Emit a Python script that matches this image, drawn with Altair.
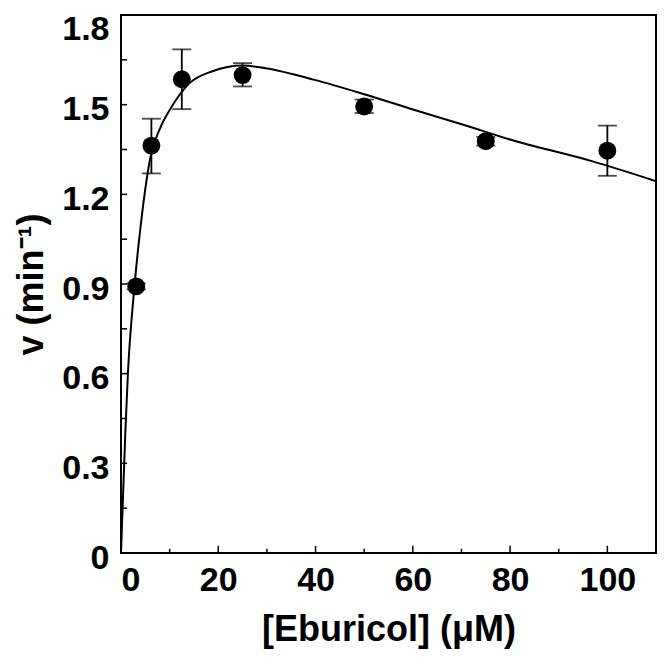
import altair as alt
import pandas as pd

# measured points
conc = [3.125, 6.25, 12.5, 25, 50, 75, 100]
rate = [0.892, 1.363, 1.585, 1.599, 1.494, 1.378, 1.346]
err_lo = [0.882, 1.270, 1.485, 1.561, 1.472, 1.363, 1.262]
err_hi = [0.902, 1.453, 1.685, 1.639, 1.517, 1.392, 1.430]

# fitted curve
fit_x = [0, 0.88, 1.42, 2.7, 3.6, 4.6, 6.0, 8.0, 10.3, 14.1, 18.8, 25, 29.7, 39.8,
         50, 60.2, 70.4, 80.5, 96.8, 110]
fit_y = [0, 0.40, 0.60, 0.88, 1.03, 1.17, 1.32, 1.42, 1.49, 1.572, 1.612, 1.631,
         1.622, 1.583, 1.535, 1.483, 1.433, 1.381, 1.311, 1.244]

x_major = [0, 20, 40, 60, 80, 100]
x_minor = [10, 30, 50, 70, 90]
y_major = [0, 0.3, 0.6, 0.9, 1.2, 1.5, 1.8]
y_minor = [0.15, 0.45, 0.75, 1.05, 1.35, 1.65]

pts = pd.DataFrame({"S": conc, "v": rate, "lo": err_lo, "hi": err_hi})
fit = pd.DataFrame({"S": fit_x, "v": fit_y})

xt = pd.DataFrame({"S": x_major + x_minor,
                   "y0": [0.0] * (len(x_major) + len(x_minor)),
                   "y1": [0.024] * len(x_major) + [0.014] * len(x_minor)})
yt = pd.DataFrame({"v": y_major + y_minor,
                   "x0": [0.0] * (len(y_major) + len(y_minor)),
                   "x1": [1.25] * (len(y_major) + len(y_minor))})

FONT = "Liberation Sans"

xscale = alt.Scale(domain=[0, 110], nice=False, zero=False)
yscale = alt.Scale(domain=[0, 1.8], nice=False, zero=False)

xaxis = alt.Axis(values=x_major, format="d", ticks=False, domain=False, grid=False,
                 labelFont=FONT, labelFontSize=34, labelFontWeight="bold",
                 labelColor="black", labelPadding=10,
                 title="[Eburicol] (\u03bcM)", titleFont=FONT, titleFontSize=36,
                 titleFontWeight="bold", titleColor="black", titlePadding=15)
yaxis = alt.Axis(values=y_major, ticks=False, domain=False, grid=False,
                 labelExpr="datum.value == 0 ? '0' : format(datum.value, '.1f')",
                 labelFont=FONT, labelFontSize=34, labelFontWeight="bold",
                 labelColor="black", labelPadding=12,
                 labelBaseline={"condition": {"test": "datum.value > 1.7", "value": "top"},
                                "value": "middle"},
                 labelOffset={"condition": {"test": "datum.value > 1.7", "value": -3},
                              "value": 5},
                 title="v (min\u207b\u00b9)", titleFont=FONT, titleFontSize=36,
                 titleFontWeight="bold", titleColor="black", titlePadding=11)

curve = alt.Chart(fit).mark_line(color="black", strokeWidth=2, interpolate="monotone", clip=True).encode(
    x=alt.X("S:Q", scale=xscale, axis=xaxis),
    y=alt.Y("v:Q", scale=yscale, axis=yaxis),
)

bars = alt.Chart(pts).mark_rule(color="black", strokeWidth=1.8).encode(
    x="S:Q", y="lo:Q", y2="hi:Q")
cap_hi = alt.Chart(pts).mark_tick(color="black", orient="horizontal", size=19, thickness=1.8).encode(
    x="S:Q", y="hi:Q")
cap_lo = alt.Chart(pts).mark_tick(color="black", orient="horizontal", size=19, thickness=1.8).encode(
    x="S:Q", y="lo:Q")
dots = alt.Chart(pts).mark_point(filled=True, color="black", size=320, opacity=1, shape="circle").encode(
    x="S:Q", y="v:Q")

xticks = alt.Chart(xt).mark_rule(color="black", strokeWidth=1.5).encode(
    x="S:Q", y="y0:Q", y2="y1:Q")
yticks = alt.Chart(yt).mark_rule(color="black", strokeWidth=1.5).encode(
    y="v:Q", x="x0:Q", x2="x1:Q")

chart = alt.layer(xticks, yticks, curve, bars, cap_hi, cap_lo, dots).properties(
    width=535, height=538,
    autosize=alt.AutoSizeParams(type="none"),
    padding={"left": 113, "top": 7, "right": 2, "bottom": 99},
    background="white",
).configure_view(stroke="black", strokeWidth=2)

chart.save("out.html", embed_options={"renderer": "svg", "actions": False})
